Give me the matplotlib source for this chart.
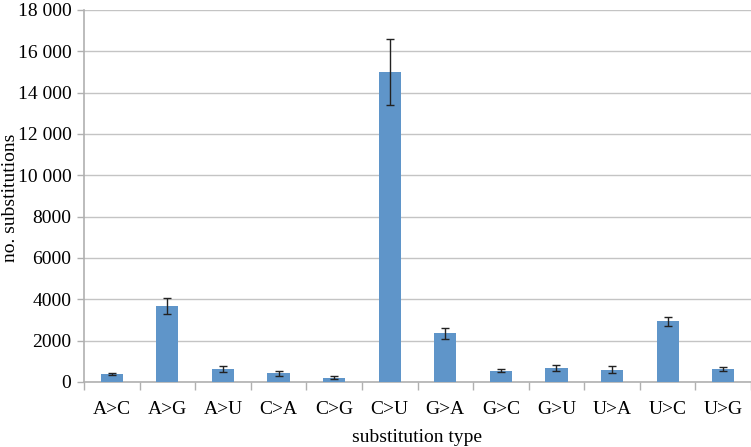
import matplotlib
matplotlib.use("Agg")
import matplotlib.pyplot as plt
import numpy as np

categories = ["A>C", "A>G", "A>U", "C>A", "C>G", "C>U", "G>A", "G>C", "G>U", "U>A", "U>C", "U>G"]
values = [390, 3680, 630, 420, 210, 15000, 2360, 550, 670, 600, 2940, 640]
errors = [50, 390, 130, 130, 70, 1580, 270, 60, 150, 160, 210, 90]
yticks = [0, 2000, 4000, 6000, 8000, 10000, 12000, 14000, 16000, 18000]
ytick_labels = ["0", "2000", "4000", "6000", "8000", "10 000", "12 000", "14 000", "16 000", "18 000"]

plt.rcParams['font.family'] = ['Liberation Serif', 'DejaVu Serif']

fig = plt.figure(figsize=(7.51, 4.47), dpi=100)
ax = fig.add_axes([84/751, 1-382/447, 1-84/751, (382-10)/447])

x = np.arange(len(categories))
ax.bar(x, values, width=0.4, color="#5f95c9", zorder=3)
ax.errorbar(x, values, yerr=errors, fmt="none", ecolor="#222222", elinewidth=1, capsize=3, capthick=1, zorder=4)

ax.set_xlim(-0.5, len(categories) - 0.5)
ax.set_ylim(0, 18000)
ax.set_yticks(yticks)
ax.set_yticklabels(ytick_labels, fontsize=14)
ax.set_xticks(x)
ax.set_xticklabels(categories, fontsize=14)
ax.set_xticks(np.arange(len(categories) + 1) - 0.5, minor=True)
ax.tick_params(axis="x", which="major", length=0, pad=14)
ax.tick_params(axis="x", which="minor", length=6, color="#b0b0b0", width=1)
ax.tick_params(axis="y", length=5, color="#b0b0b0", width=1, pad=4)

ax.yaxis.grid(True, color="#c4c4c4", linewidth=1, zorder=0)
ax.set_axisbelow(True)
for s in ["top", "right"]:
    ax.spines[s].set_visible(False)
for s in ["left", "bottom"]:
    ax.spines[s].set_color("#b0b0b0")
    ax.spines[s].set_linewidth(1.2)

fig.text(417/751, 1-437/447, "substitution type", fontsize=14, ha="center", va="center")
fig.text(11/751, 1-198/447, "no. substitutions", fontsize=14, ha="center", va="center", rotation=90)

fig.savefig("out.png", dpi=100)
